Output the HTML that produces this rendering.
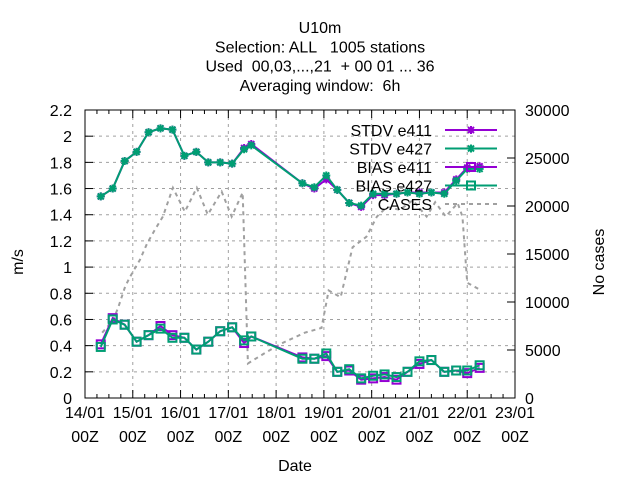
<!DOCTYPE html>
<html><head><meta charset="utf-8"><style>
body{margin:0;background:#fff}
svg{font-family:"Liberation Sans",sans-serif;font-size:16px}
</style></head><body>
<svg id="c" width="640" height="480"></svg>
<script>
const xDays=[0.33,0.58,0.83,1.08,1.33,1.58,1.83,2.08,2.33,2.58,2.83,3.08,3.33,3.48,4.55,4.8,5.05,5.28,5.53,5.78,6.03,6.27,6.52,6.75,7.0,7.25,7.52,7.77,8.0,8.26];
const stdv411=[1.54,1.60,1.81,1.88,2.03,2.06,2.05,1.85,1.88,1.80,1.80,1.79,1.91,1.94,1.64,1.60,1.67,1.59,1.49,1.46,1.55,1.55,1.56,1.57,1.57,1.57,1.57,1.67,1.76,1.77];
const stdv427=[1.54,1.60,1.81,1.88,2.03,2.06,2.05,1.85,1.88,1.80,1.80,1.79,1.90,1.93,1.64,1.61,1.70,1.59,1.49,1.47,1.56,1.56,1.56,1.57,1.56,1.57,1.56,1.66,1.75,1.75];
const bias411=[0.41,0.61,0.56,0.43,0.48,0.55,0.48,0.46,0.37,0.43,0.51,0.54,0.42,0.47,0.31,0.30,0.32,0.20,0.21,0.14,0.15,0.16,0.14,0.20,0.26,0.29,0.20,0.21,0.19,0.23];
const bias427=[0.39,0.60,0.56,0.43,0.48,0.53,0.46,0.46,0.37,0.43,0.51,0.54,0.44,0.47,0.30,0.30,0.34,0.20,0.22,0.15,0.17,0.18,0.16,0.20,0.28,0.29,0.20,0.21,0.21,0.25];
const caseDays=[0.36,0.59,0.7,0.84,0.94,1.15,1.3,1.46,1.63,1.84,2.09,2.34,2.57,2.86,3.07,3.3,3.41,3.77,4.12,4.6,4.95,5.1,5.35,5.6,5.89,6.11,6.32,6.59,6.86,7.15,7.33,7.55,7.8,7.9,8.0,8.26];
const caseVals=[6800,8100,9500,11600,12600,14400,16100,17500,18900,21900,19400,21900,19100,21500,18900,21400,3600,4700,5700,6800,7300,11200,10500,15700,16800,18900,19900,19600,20600,18900,20400,18900,20300,18900,12000,11300];
const yTicks=["0","0.2","0.4","0.6","0.8","1","1.2","1.4","1.6","1.8","2","2.2"];
const y2Ticks=["0","5000","10000","15000","20000","25000","30000"];
const xTicks=["14/01","15/01","16/01","17/01","18/01","19/01","20/01","21/01","22/01","23/01"];
const L=85,R=515,T=110,B=398;
const X=d=>L+d*(R-L)/9, Y=v=>B-v*(B-T)/2.2, Y2=v=>B-v*(B-T)/30000;
const s=document.getElementById('c'),NS="http://www.w3.org/2000/svg";
function el(t,a,p){const e=document.createElementNS(NS,t);for(const k in a)e.setAttribute(k,a[k]);(p||s).appendChild(e);return e;}
function tx(x,y,str,anchor,extra){const e=el('text',Object.assign({x:x,y:y,'text-anchor':anchor||'middle'},extra||{}));e.textContent=str;return e;}
["U10m","Selection: ALL   1005 stations","Used  00,03,...,21  + 00 01 ... 36","Averaging window:  6h"].forEach((t,i)=>{const e=tx(320,33+i*19.3,t,'middle',{style:'white-space:pre'});

});
yTicks.forEach((t,i)=>{const y=Y(i*0.2);
if(i>0&&i<11){const g=el('line',{x1:L,x2:R,y1:y,y2:y,stroke:'#a0a0a0','stroke-dasharray':'3,4'});

}
el('line',{x1:L,x2:L+8,y1:y,y2:y,stroke:'#000'});
const e=tx(72,y+6,t,'end');

});
y2Ticks.forEach((t,i)=>{const y=Y2(i*5000);el('line',{x1:R-8,x2:R,y1:y,y2:y,stroke:'#000'});
const e=tx(525,y+6,t,'start');

});
xTicks.forEach((t,i)=>{const x=X(i);
if(i>0&&i<9){const g=el('line',{x1:x,x2:x,y1:T,y2:B,stroke:'#a0a0a0','stroke-dasharray':'3,4'});

}
el('line',{x1:x,x2:x,y1:B,y2:B-8,stroke:'#000'});el('line',{x1:x,x2:x,y1:T,y2:T+8,stroke:'#000'});
for(let h=1;h<4;h++){const xm=X(i+h/4);if(i<9){el('line',{x1:xm,x2:xm,y1:B,y2:B-4,stroke:'#000'});el('line',{x1:xm,x2:xm,y1:T,y2:T+4,stroke:'#000'});}}
const a=tx(x,418,t);
const b=tx(x,442,'00Z');});
const fr=el('rect',{x:L,y:T,width:R-L,height:B-T,fill:'none',stroke:'#000'});

const yl=tx(0,0,'m/s','middle',{transform:'translate(23,262) rotate(-90)'});
const y2l=tx(0,0,'No cases','middle',{transform:'translate(604,262) rotate(-90)'});
const xl=tx(295,471,'Date');
const cp=el('polyline',{points:caseDays.map((d,i)=>X(d)+','+Y2(caseVals[i])).join(' '),fill:'none',stroke:'#a0a0a0','stroke-width':2,'stroke-dasharray':'4,4'});

function star(g,x,y,c){el('path',{d:`M${x-4} ${y}h8M${x} ${y-4}v8M${x-3} ${y-3}l6 6M${x-3} ${y+3}l6 -6`,stroke:c,'stroke-width':2},g);}
function sq(g,x,y,c){el('rect',{x:x-4,y:y-4,width:8,height:8,fill:'none',stroke:c,'stroke-width':2},g);}
function series(vals,c,mk,name){const g=el('g',{});

el('polyline',{points:vals.map((v,i)=>X(xDays[i])+','+Y(v)).join(' '),fill:'none',stroke:c,'stroke-width':2},g);
vals.forEach((v,i)=>mk(g,X(xDays[i]),Y(v),c));}
series(stdv411,'#9400d3',star,'stdv-e411-series');
series(bias411,'#9400d3',sq,'bias-e411-series');
series(stdv427,'#009e73',star,'stdv-e427-series');
series(bias427,'#009e73',sq,'bias-e427-series');
const leg=[["STDV e411",'#9400d3',star],["STDV e427",'#009e73',star],["BIAS e411",'#9400d3',sq],["BIAS e427",'#009e73',sq],["CASES",'#a0a0a0',null]];
leg.forEach((l,i)=>{const y=130+i*18.5;const g=el('g',{fill:'#000'});

const t=el('text',{x:432,y:y+6,'text-anchor':'end'},g);t.textContent=l[0];
el('line',{x1:445,x2:497,y1:y,y2:y,stroke:l[1],'stroke-width':2,'stroke-dasharray':l[2]?'':'4,4'},g);
if(l[2])l[2](g,471,y,l[1]);});
</script>
</body></html>
